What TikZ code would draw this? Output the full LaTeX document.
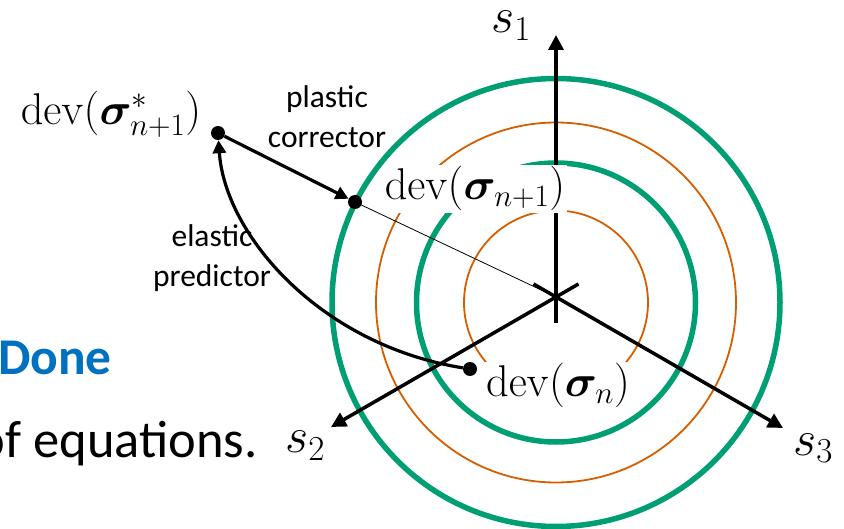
\RequirePackage{fix-cm}
\documentclass[tikz,border=0pt]{standalone}
\usepackage{amsmath,bm}
\usepackage[no-math]{fontspec}
\newfontfamily\carlito{Carlito}
\usetikzlibrary{arrows.meta}
\definecolor{ygreen}{RGB}{0,158,115}
\definecolor{yorange}{RGB}{213,94,0}
\definecolor{dblue}{RGB}{0,112,192}
\begin{document}
\begin{tikzpicture}[x=1pt,y=-1pt,
  mlbl/.style={font=\fontsize{44.5}{52}\selectfont, inner sep=0pt},
  slbl/.style={font=\fontsize{50}{58}\selectfont, inner sep=0pt},
  wlbl/.style={mlbl, fill=white, inner sep=2pt},
  clbl/.style={font=\carlito\fontsize{31.5}{40}\selectfont, align=center, inner sep=0pt},
  dot/.style={circle, fill=black, minimum size=14pt, inner sep=0pt},
  gcirc/.style={draw=ygreen, line width=5.5pt},
  ocirc/.style={draw=yorange, line width=1.8pt},
  axis/.style={line width=3.5pt, -{Triangle[length=15pt,width=15pt]}},
  arr/.style={line width=3.2pt, -{Triangle[length=13pt,width=13pt]}},
  thinline/.style={line width=0.8pt}]
\useasboundingbox (0,0) rectangle (844,529);
% background slide text
\node[anchor=base east, font=\carlito\bfseries\fontsize{51.5}{56}\selectfont, text=dblue, inner sep=0pt] (done) at (112,375) {Done};
\node[anchor=base east, font=\carlito\fontsize{52.5}{58}\selectfont, inner sep=0pt] (eq) at (258,457) {of equations.};
% circles
\coordinate (C) at (556,302.5);
\draw[ocirc] (C) circle[radius=92pt];
\draw[gcirc] (C) circle[radius=139.5pt];
\draw[ocirc] (C) circle[radius=180pt];
\draw[gcirc] (C) circle[radius=224pt];
% axes
\coordinate (O) at (556,297);
\coordinate (s1b) at (556,323);
\coordinate (s1t) at (556,35);
\coordinate (s2b) at (578.5,284);
\coordinate (s2t) at (331,427);
\coordinate (s3b) at (533.5,284);
\coordinate (s3t) at (783,428);
\draw[axis] (s1b) -- (s1t);
\draw[axis] (s2b) -- (s2t);
\draw[axis] (s3b) -- (s3t);
\node[slbl, anchor=base] (s1) at (511,33) {$s_1$};
\node[slbl, anchor=base] (s2) at (305,453) {$s_2$};
\node[slbl, anchor=base] (s3) at (813,455) {$s_3$};
% points
\node[dot] (pstar) at (218,133) {};
\node[dot] (pnp1) at (355,202) {};
\node[dot] (pn) at (470,369) {};
\draw[thinline] (pnp1.center) -- (O);
\draw[arr] (pstar) -- (pnp1);
\draw[arr] (pn) .. controls (320,345) and (225,235) .. (pstar);
% labels
\node[mlbl, anchor=base] (pstarlbl) at (111,125) {$\mathrm{dev}(\bm{\sigma}^*_{n+1})$};
\node[wlbl, anchor=base] (pnp1lbl) at (475,200) {$\mathrm{dev}(\bm{\sigma}_{n+1})$};
\node[wlbl, anchor=base] (pnlbl) at (558,397) {$\mathrm{dev}(\bm{\sigma}_n)$};
\node[clbl] (plbl) at (327,117) {plastic\\corrector};
\node[clbl] (elbl) at (212,258) {elastic\\predictor};
\end{tikzpicture}
\end{document}
